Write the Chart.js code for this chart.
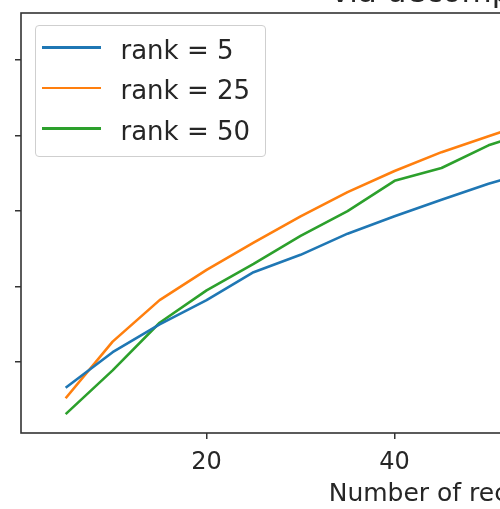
<!DOCTYPE html>
<html>
<head>
<meta charset="utf-8">
<script src="https://cdn.jsdelivr.net/npm/chart.js@4"></script>
<style>
  html, body { margin: 0; padding: 0; background: #fff; }
  #view { position: relative; width: 500px; height: 509px; overflow: hidden; background: #fff; }
  #figure { position: absolute; left: -100px; top: -60px; }
  #legend {
    position: absolute; left: 35px; top: 25px; width: 231px; height: 132px;
    box-sizing: border-box; border: 1.5px solid #cfcfcf; border-radius: 4px;
    background: rgba(255, 255, 255, 0.8);
    font-family: "DejaVu Sans", sans-serif; font-size: 26px; color: #262626;
  }
  #legend .handle { position: absolute; left: 5.5px; width: 59px; height: 2.6px; }
  #legend .label { position: absolute; left: 84.5px; line-height: 26px; white-space: nowrap; }
</style>
</head>
<body>
<div id="view">
  <div id="figure"><canvas id="chart" width="1224" height="580"></canvas></div>
  <div id="legend"></div>
</div>
<script>
// Number of recommended items on the x axis
const xValues = [5, 10, 15, 20, 25, 30, 35, 40, 45, 50, 55];

// Score per decomposition rank
const rank5  = [0.066, 0.113, 0.150, 0.182, 0.219, 0.242, 0.270, 0.293, 0.315, 0.336, 0.354];
const rank25 = [0.052, 0.127, 0.182, 0.222, 0.258, 0.293, 0.325, 0.353, 0.378, 0.399, 0.420];
const rank50 = [0.031, 0.089, 0.152, 0.195, 0.230, 0.267, 0.300, 0.340, 0.357, 0.387, 0.407];

const seriesLabels = ['rank = 5', 'rank = 25', 'rank = 50'];
const seriesColors = ['#1f77b4', '#ff7f0e', '#2ca02c'];

const xTicks = [20, 40, 60, 80, 100];
const yTicks = [0.1, 0.2, 0.3, 0.4, 0.5];

const chartTitle = 'via decomposition (MF)';
const xTitle = 'Number of recommendations';

const FONT = 'DejaVu Sans';
const INK = '#262626';

// Full rectangular frame around the plotting area
const framePlugin = {
  id: 'frame',
  afterDatasetsDraw(chart) {
    const { ctx, chartArea: a } = chart;
    ctx.save();
    ctx.strokeStyle = '#333';
    ctx.lineWidth = 1.6;
    ctx.strokeRect(a.left, a.top, a.right - a.left, a.bottom - a.top);
    ctx.restore();
  }
};

const toPoints = ys => xValues.map((x, i) => ({ x, y: ys[i] }));

const datasets = [rank5, rank25, rank50].map((ys, i) => ({
  label: seriesLabels[i],
  data: toPoints(ys),
  borderColor: seriesColors[i],
  backgroundColor: seriesColors[i],
  borderWidth: 2.6,
  pointRadius: 0,
  tension: 0,
  fill: false,
  borderJoinStyle: 'round'
}));

const tickGrid = { drawOnChartArea: false, drawTicks: true, tickLength: 6, color: '#333', lineWidth: 1.5 };

// Equal side padding keeps the title centred over the plotting area;
// the y axis is given zero width so its ticks hang into the left padding.
const chart = new Chart(document.getElementById('chart'), {
  type: 'line',
  data: { datasets },
  plugins: [framePlugin],
  options: {
    responsive: false,
    animation: false,
    devicePixelRatio: 1,
    layout: { padding: { left: 121, right: 121, top: 0, bottom: 0 } },
    plugins: {
      legend: { display: false },
      tooltip: { enabled: false },
      title: {
        display: true,
        text: chartTitle,
        color: INK,
        font: { family: FONT, size: 31, weight: 'normal', lineHeight: 1 },
        padding: { top: 38, bottom: 4 }
      }
    },
    scales: {
      x: {
        type: 'linear',
        min: 0.25,
        max: 104.75,
        afterBuildTicks: s => { s.ticks = xTicks.map(v => ({ value: v })); },
        afterFit: s => { s.height = 87; },
        grid: tickGrid,
        border: { display: false },
        ticks: { color: INK, font: { family: FONT, size: 24 }, padding: 9, maxRotation: 0, autoSkip: false },
        title: {
          display: true, text: xTitle, color: INK,
          font: { family: FONT, size: 25, lineHeight: 1 },
          padding: { top: 0, bottom: 13 }
        }
      },
      y: {
        type: 'linear',
        min: 0.006,
        max: 0.5623,
        afterBuildTicks: s => { s.ticks = yTicks.map(v => ({ value: v })); },
        afterFit: s => { s.width = 0; },
        grid: tickGrid,
        border: { display: false },
        ticks: { color: INK, font: { family: FONT, size: 24 }, padding: 20, callback: v => v.toFixed(1) }
      }
    }
  }
});

// Legend drawn as HTML from the chart's datasets
const legendBox = document.getElementById('legend');
const rowCenters = [21.5, 62, 102.5];
chart.data.datasets.forEach((ds, i) => {
  const handle = document.createElement('div');
  handle.className = 'handle';
  handle.style.background = ds.borderColor;
  handle.style.top = (rowCenters[i] - 1.3) + 'px';
  legendBox.appendChild(handle);
  const label = document.createElement('div');
  label.className = 'label';
  label.textContent = ds.label;
  label.style.top = (rowCenters[i] - 10.7) + 'px';
  legendBox.appendChild(label);
});
</script>
</body>
</html>
